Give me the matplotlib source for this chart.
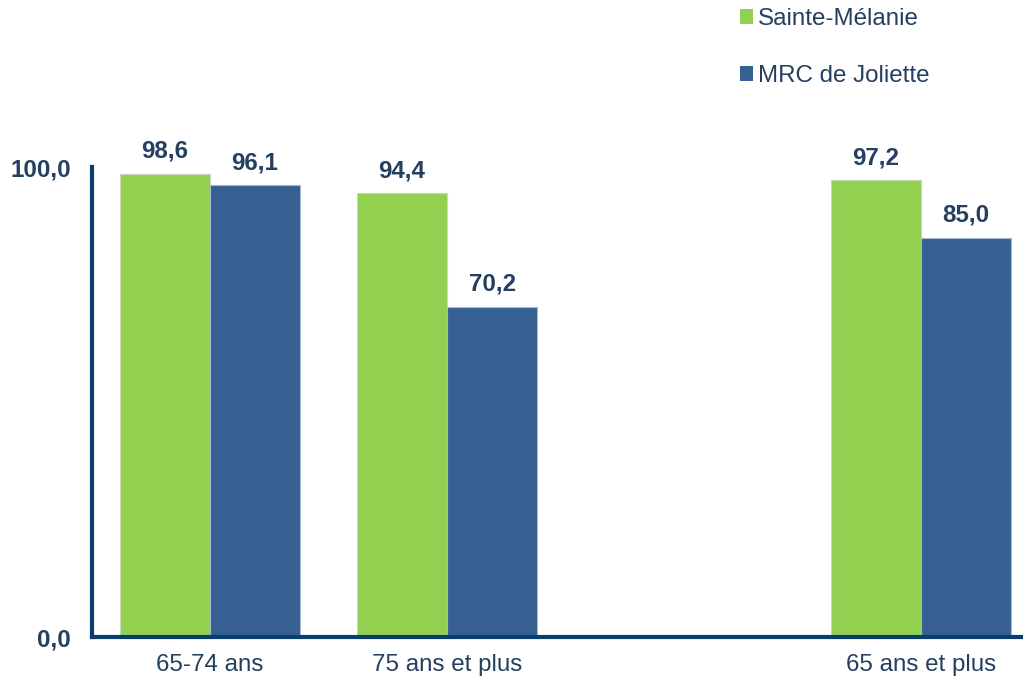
import numpy as np
import matplotlib.pyplot as plt

plt.rcParams['font.family'] = ['Liberation Sans', 'DejaVu Sans']

categories = ['65-74 ans', '75 ans et plus', '', '65 ans et plus']
sainte_melanie = [98.6, 94.4, np.nan, 97.2]
mrc_joliette = [96.1, 70.2, np.nan, 85.0]
series_names = ['Sainte-Mélanie', 'MRC de Joliette']

green = '#92D050'
blue = '#366092'
text_col = '#243F60'
axis_col = '#0B3C6E'
fs = 17.4

fig = plt.figure(figsize=(10.23, 6.79), dpi=100)
ax = fig.add_axes([92 / 1023, 42 / 679, 931 / 1023, 470 / 679])

x = np.arange(len(categories))
w = 0.381
b1 = ax.bar(x - w / 2, sainte_melanie, w, color=green, edgecolor='#c8d8c0', linewidth=0.8,
            label=series_names[0])
b2 = ax.bar(x + w / 2, mrc_joliette, w, color=blue, edgecolor='#a8b8d0', linewidth=0.8,
            label=series_names[1])

def fmt(v):
    return f'{v:.1f}'.replace('.', ',')

for bars, vals in ((b1, sainte_melanie), (b2, mrc_joliette)):
    for bar, v in zip(bars, vals):
        if np.isnan(v):
            continue
        ax.annotate(fmt(v), (bar.get_x() + bar.get_width() / 2, v),
                    xytext=(0, 8), textcoords='offset points', ha='center', va='bottom',
                    fontsize=fs, fontweight='bold', color=text_col)

ax.set_xlim(-0.497, 3.43)
ax.set_ylim(0, 100)
ax.set_yticks([0, 100])
ax.set_yticklabels([fmt(0), fmt(100)], fontsize=fs, fontweight='bold', color=text_col)
ax.set_xticks([0, 1, 3])
ax.set_xticklabels([categories[0], categories[1], categories[3]], fontsize=fs, color=text_col)
ax.tick_params(axis='both', length=0)
ax.tick_params(axis='y', pad=15)
ax.tick_params(axis='x', pad=12)

for s in ('top', 'right'):
    ax.spines[s].set_visible(False)
for s in ('left', 'bottom'):
    ax.spines[s].set_color(axis_col)
    ax.spines[s].set_linewidth(3)

leg = fig.legend(loc='upper left', bbox_to_anchor=(740 / 1023, 1 - 8 / 679), frameon=False,
                 fontsize=fs, handlelength=0.55, handleheight=0.55, handletextpad=0.2,
                 labelspacing=1.45, borderpad=0, borderaxespad=0)
for t in leg.get_texts():
    t.set_color(text_col)
for h in leg.legend_handles:
    h.set_edgecolor('none')

fig.savefig('out.png', dpi=100)
